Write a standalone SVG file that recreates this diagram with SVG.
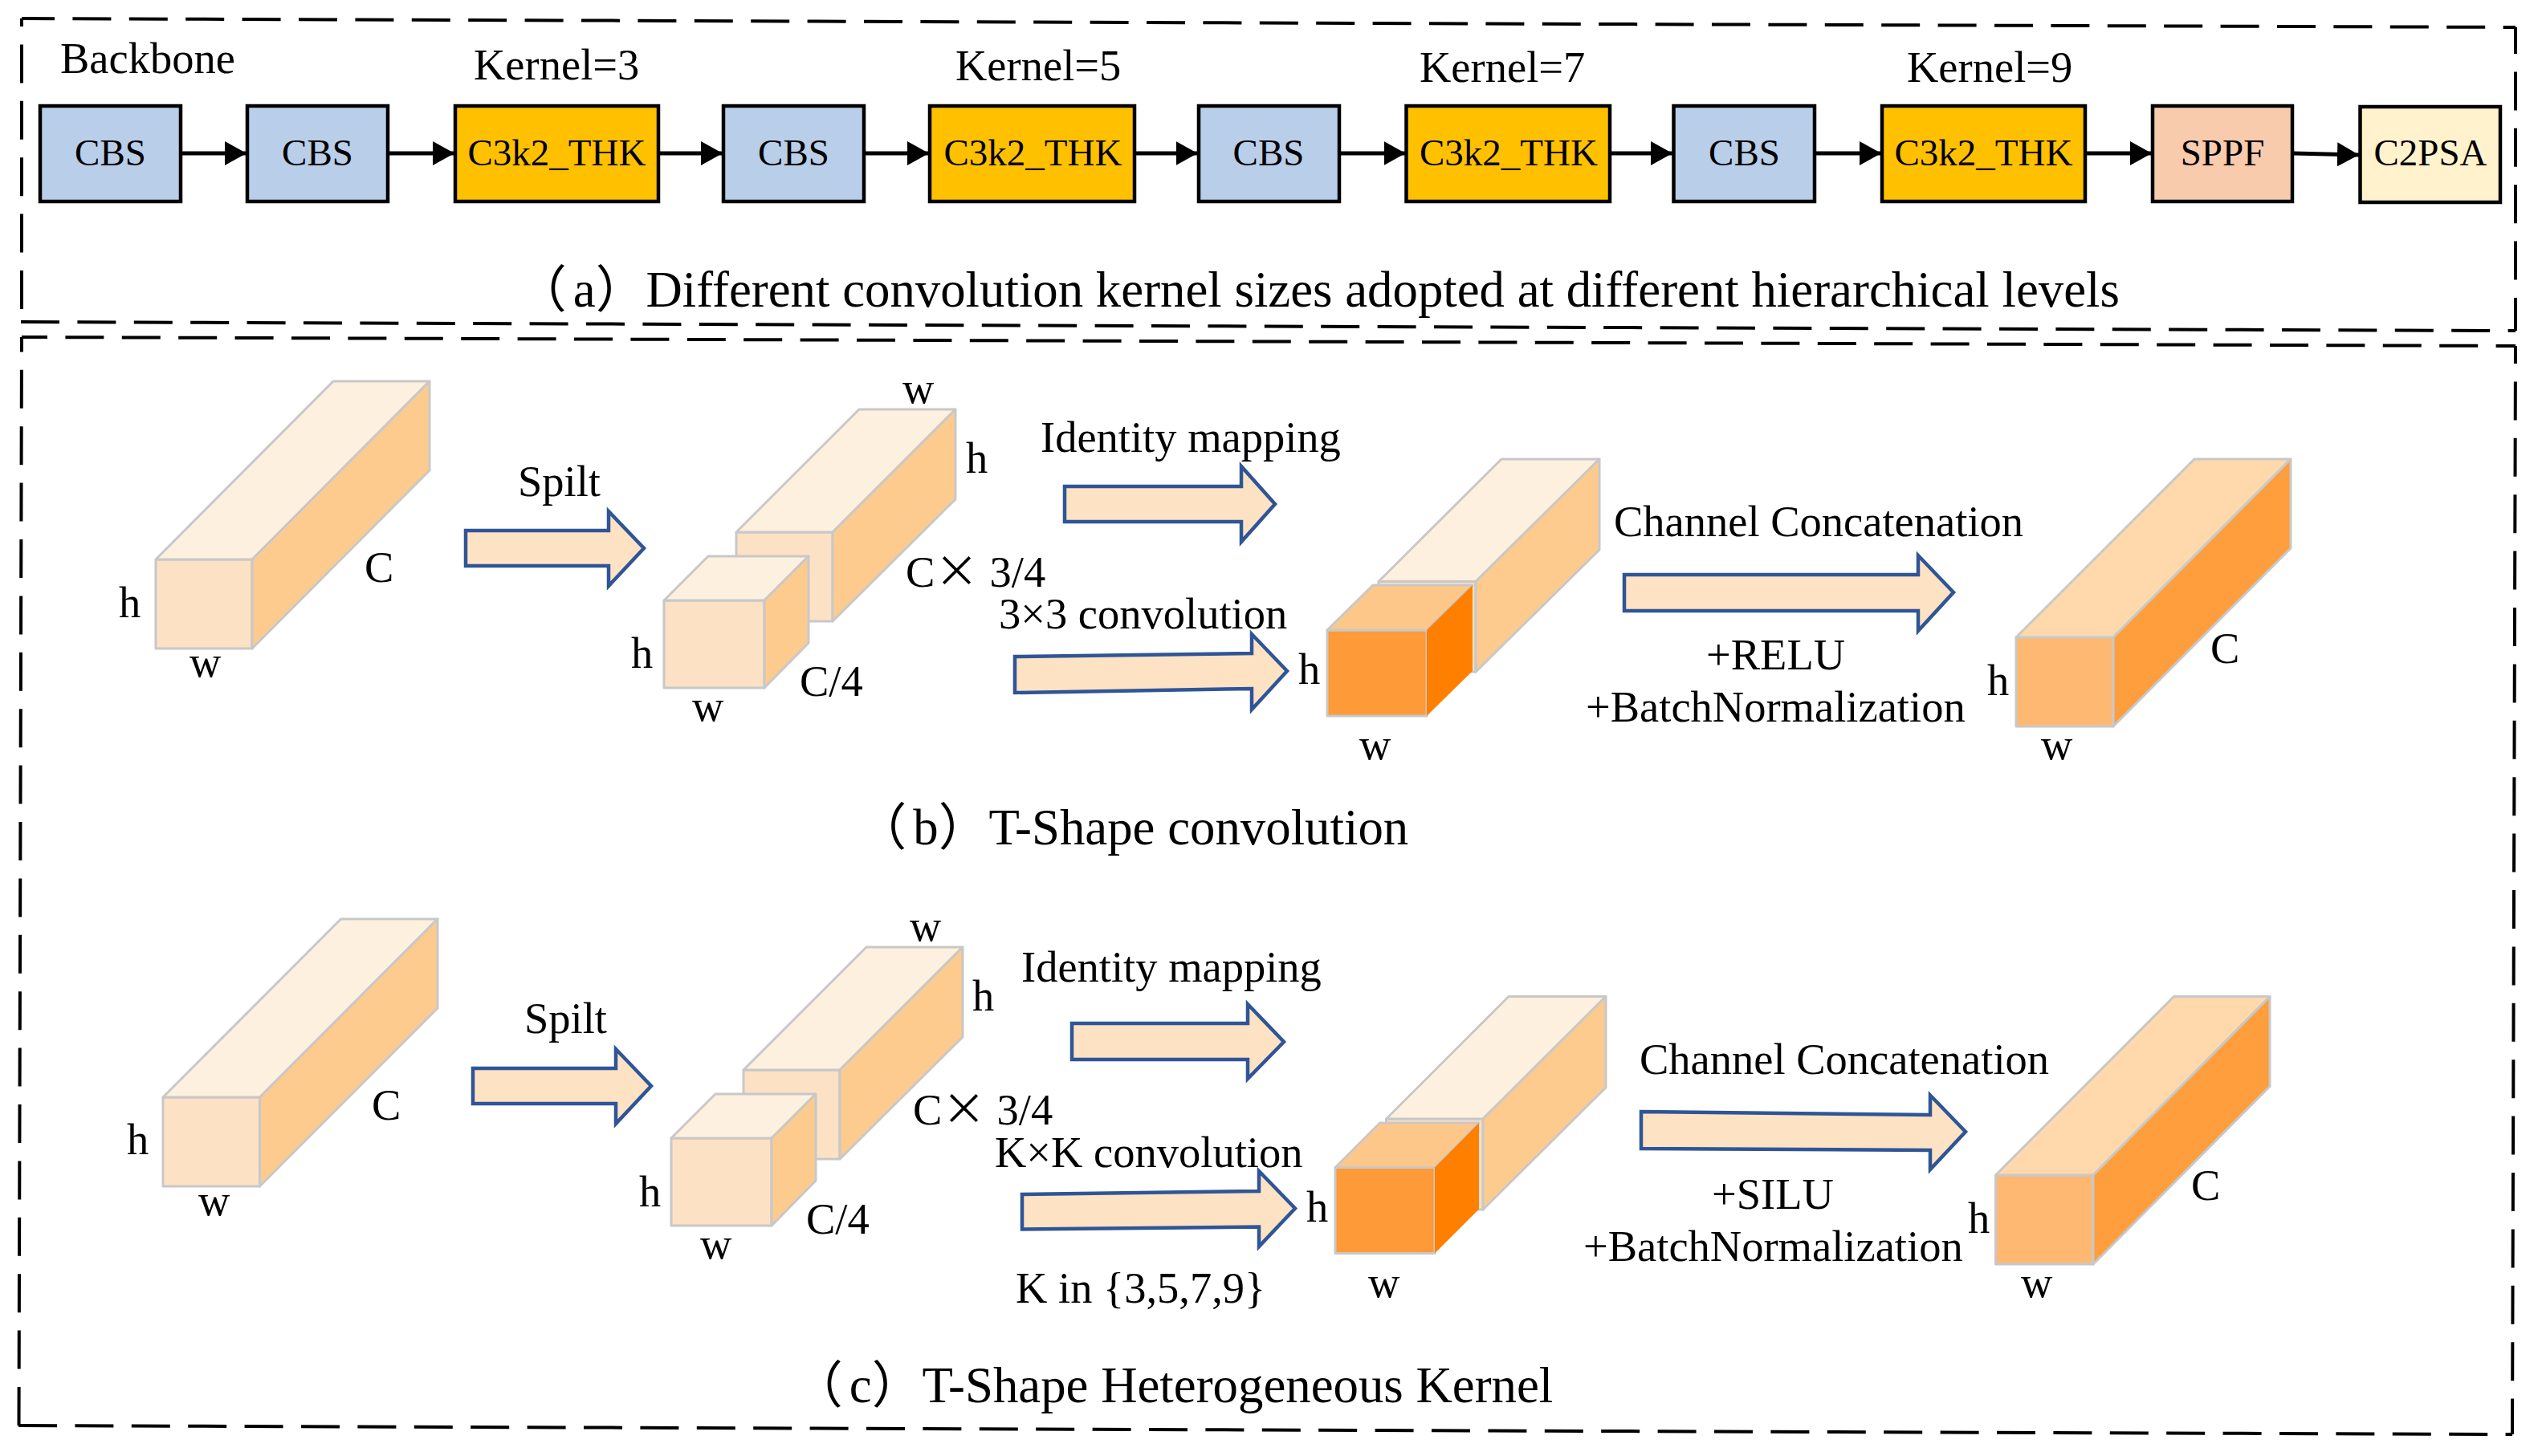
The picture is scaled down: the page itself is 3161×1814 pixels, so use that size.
<svg xmlns="http://www.w3.org/2000/svg" width="3161" height="1814" viewBox="0 0 3161 1814">
<style>
text{font-family:"Liberation Serif","Noto Sans CJK SC",serif;fill:#000}
.l{font-size:54.500px}
.c{font-size:62.800px}
.n{font-size:47px;text-anchor:middle}
.x{font-family:"Noto Sans CJK SC",sans-serif}
.box{stroke:#000;stroke-width:4.500}
.cbs{fill:#B9CEE8}.thk{fill:#FFC000}.sppf{fill:#F8CBAD}.psa{fill:#FFF2CC}
.d{fill:none;stroke:#000;stroke-width:4;stroke-dasharray:48 22.400}
.w{fill:none;stroke:#000;stroke-width:5;marker-end:url(#h)}
.a{fill:#FDE2C3;stroke:#2F5597;stroke-width:4.500}
.e{stroke:#C8C8C8;stroke-width:3;stroke-linejoin:round}
.f1{fill:#FDE1C4}.t1{fill:#FEF0DF}.s1{fill:#FECB8E}
.f2{fill:#FF9A38}.t2{fill:#FEC78A}.s2{fill:#FF8000}
.f3{fill:#FFB871}.t3{fill:#FFD8AB}.s3{fill:#FF9E3D}
</style>
<defs>
<marker id="h" markerUnits="userSpaceOnUse" markerWidth="28" markerHeight="30" refX="27" refY="15" orient="auto"><path d="M0,0L27,15L0,30Z" fill="#000"/></marker>
</defs>
<g id="panels">
<path class="d" style="stroke-dashoffset:7" d="M27,23L3133,34"/>
<path class="d" style="stroke-dashoffset:15" d="M3133,34V412"/>
<path class="d" d="M26,401L3133,412"/>
<path class="d" style="stroke-dashoffset:38" d="M27,23V401"/>
<path class="d" style="stroke-dashoffset:16" d="M27,420L3133,431"/>
<path class="d" style="stroke-dashoffset:26" d="M3133,431L3129,1787"/>
<path class="d" d="M23,1776L3129,1787"/>
<path class="d" style="stroke-dashoffset:29.600" d="M27,420L23.500,1776"/>
</g>
<g id="connectors">
<path class="w" d="M226,191H307"/>
<path class="w" d="M484,191H566"/>
<path class="w" d="M821,191H900"/>
<path class="w" d="M1077,191H1157"/>
<path class="w" d="M1414,191H1491.500"/>
<path class="w" d="M1669,191H1750.500"/>
<path class="w" d="M2006,191H2083"/>
<path class="w" d="M2261,191H2343"/>
<path class="w" d="M2598,191H2680"/>
<path class="w" d="M2856,191L2938,193"/>
<path class="a" d="M580,661H758V637L802,683L758,730V705H580Z"/>
<path class="a" d="M1326,606H1546V581L1588,628L1546,675V650H1326Z"/>
<path class="a" d="M1264,818L1559,814V790L1603,836L1559,884V858L1264,863Z"/>
<path class="a" d="M2023,716H2389V692L2433,738L2389,786V761H2023Z"/>
<path class="a" d="M589,1331H767V1307L811,1353L767,1400V1375H589Z"/>
<path class="a" d="M1335,1275H1554V1251L1599,1298L1554,1344V1320H1335Z"/>
<path class="a" d="M1273,1488L1568,1484V1459L1613,1505.500L1568,1553V1528.500L1273,1531.500Z"/>
<path class="a" d="M2044,1385L2404,1389V1364.500L2448,1410L2404,1457V1433L2044,1431Z"/>
</g>
<g id="node-cbs1"><rect class="box cbs" x="50" y="132" width="175" height="119"/><text class="n" x="137.500" y="206">CBS</text></g>
<g id="node-cbs2"><rect class="box cbs" x="308" y="132" width="175" height="119"/><text class="n" x="395.500" y="206">CBS</text></g>
<g id="node-thk1"><rect class="box thk" x="567" y="132" width="253" height="119"/><text class="n" x="693.500" y="206">C3k2_THK</text></g>
<g id="node-cbs3"><rect class="box cbs" x="901" y="132" width="175" height="119"/><text class="n" x="988.500" y="206">CBS</text></g>
<g id="node-thk2"><rect class="box thk" x="1158" y="132" width="255" height="119"/><text class="n" x="1286.500" y="206">C3k2_THK</text></g>
<g id="node-cbs4"><rect class="box cbs" x="1493" y="132" width="175" height="119"/><text class="n" x="1580" y="206">CBS</text></g>
<g id="node-thk3"><rect class="box thk" x="1751.500" y="132" width="253.500" height="119"/><text class="n" x="1879" y="206">C3k2_THK</text></g>
<g id="node-cbs5"><rect class="box cbs" x="2084.500" y="132" width="175.500" height="119"/><text class="n" x="2172.500" y="206">CBS</text></g>
<g id="node-thk4"><rect class="box thk" x="2344" y="132" width="253" height="119"/><text class="n" x="2470.500" y="206">C3k2_THK</text></g>
<g id="node-sppf"><rect class="box sppf" x="2681" y="132" width="174" height="119"/><text class="n" x="2768" y="206">SPPF</text></g>
<g id="node-c2psa"><rect class="box psa" x="2939.500" y="133" width="174.500" height="119"/><text class="n" x="3027" y="206">C2PSA</text></g>
<g id="labels-a">
<text class="l" x="75" y="91">Backbone</text>
<text class="l" x="590" y="99">Kernel=3</text>
<text class="l" x="1190" y="100">Kernel=5</text>
<text class="l" x="1768" y="102">Kernel=7</text>
<text class="l" x="2375" y="102">Kernel=9</text>
</g>
<g id="captions">
<text class="c" x="651" y="382"><tspan dx="-8">（</tspan><tspan dx="8">a</tspan>）Different convolution kernel sizes adopted at different hierarchical levels</text>
<text class="c" x="1074.500" y="1052"><tspan dx="-8">（</tspan><tspan dx="8">b</tspan>）T-Shape convolution</text>
<text class="c" x="995" y="1747"><tspan dx="-8">（</tspan><tspan dx="8">c</tspan>）T-Shape Heterogeneous Kernel</text>
</g>
<g id="cuboid-b1"><path class="e f1" d="M194,697H314V808H194Z"/><path class="e t1" d="M194,697L415,475H535L314,697Z"/><path class="e s1" d="M314,697L535,475V586L314,808Z"/></g>
<g id="cuboid-b2"><path class="e f1" d="M917,663H1037V774H917Z"/><path class="e t1" d="M917,663L1070,510H1190L1037,663Z"/><path class="e s1" d="M1037,663L1190,510V622L1037,774Z"/></g>
<g id="cuboid-b3"><path class="e f1" d="M827,748H952V857H827Z"/><path class="e t1" d="M827,748L882,693H1007L952,748Z"/><path class="e s1" d="M952,748L1007,693V801L952,857Z"/></g>
<g id="cuboid-b4"><path class="e f1" d="M1717,724.500H1838V837H1717Z"/><path class="e t1" d="M1717,724.500L1870,572H1992L1838,724.500Z"/><path class="e s1" d="M1838,724.500L1992,572V685L1838,837Z"/></g>
<g id="cuboid-b5"><path class="e f2" d="M1653,785H1777V892H1653Z"/><path class="e t2" d="M1653,785L1710,729H1834L1777,785Z"/><path class="s2" d="M1777,785L1834,729V836L1777,892Z"/></g>
<g id="cuboid-b6"><path class="e f3" d="M2511,794H2632V905H2511Z"/><path class="e t3" d="M2511,794L2733,572H2853L2632,794Z"/><path class="e s3" d="M2632,794L2853,572V683L2632,905Z"/></g>
<g id="labels-b" transform="translate(-1,1)">
<text class="l" x="149" y="768">h</text>
<text class="l" x="237" y="842">w</text>
<text class="l" x="455" y="724">C</text>
<text class="l" x="646" y="617">Spilt</text>
<text class="l" x="1125" y="501">w</text>
<text class="l" x="1204" y="588">h</text>
<text class="l" x="1129" y="730">C<tspan class="x">×</tspan> 3/4</text>
<text class="l" x="1245" y="782">3×3 convolution</text>
<text class="l" x="787" y="831">h</text>
<text class="l" x="997" y="866">C/4</text>
<text class="l" x="863" y="897">w</text>
<text class="l" x="1297" y="562">Identity mapping</text>
<text class="l" x="1618" y="851">h</text>
<text class="l" x="1694" y="945">w</text>
<text class="l" x="2011" y="667">Channel Concatenation</text>
<text class="l" x="2126" y="833">+RELU</text>
<text class="l" x="1976" y="898">+BatchNormalization</text>
<text class="l" x="2476" y="865">h</text>
<text class="l" x="2543" y="945">w</text>
<text class="l" x="2754" y="825">C</text>
</g>
<g id="cuboid-c1"><path class="e f1" d="M203,1367H323.500V1478H203Z"/><path class="e t1" d="M203,1367L424.500,1145H545L323.500,1367Z"/><path class="e s1" d="M323.500,1367L545,1145V1256L323.500,1478Z"/></g>
<g id="cuboid-c2"><path class="e f1" d="M926,1333H1046V1444H926Z"/><path class="e t1" d="M926,1333L1079,1180H1199L1046,1333Z"/><path class="e s1" d="M1046,1333L1199,1180V1292L1046,1444Z"/></g>
<g id="cuboid-c3"><path class="e f1" d="M836,1418H961V1527H836Z"/><path class="e t1" d="M836,1418L891,1363H1016L961,1418Z"/><path class="e s1" d="M961,1418L1016,1363V1471L961,1527Z"/></g>
<g id="cuboid-c4"><path class="e f1" d="M1726.500,1394H1847V1507H1726.500Z"/><path class="e t1" d="M1726.500,1394L1879,1241.500H2000L1847,1394Z"/><path class="e s1" d="M1847,1394L2000,1241.500V1355L1847,1507Z"/></g>
<g id="cuboid-c5"><path class="e f2" d="M1663,1454.500H1787V1561.500H1663Z"/><path class="e t2" d="M1663,1454.500L1718.500,1399H1842L1787,1454.500Z"/><path class="s2" d="M1787,1454.500L1842,1399V1506.500L1787,1561.500Z"/></g>
<g id="cuboid-c6"><path class="e f3" d="M2485.500,1464H2607V1575H2485.500Z"/><path class="e t3" d="M2485.500,1464L2707.500,1241.500H2827L2607,1464Z"/><path class="e s3" d="M2607,1464L2827,1241.500V1353.500L2607,1575Z"/></g>
<g id="labels-c" transform="translate(-1,1)">
<text class="l" x="159" y="1437">h</text>
<text class="l" x="248" y="1513">w</text>
<text class="l" x="464" y="1394">C</text>
<text class="l" x="654" y="1286">Spilt</text>
<text class="l" x="1134" y="1171">w</text>
<text class="l" x="1212" y="1258">h</text>
<text class="l" x="1138" y="1400">C<tspan class="x">×</tspan> 3/4</text>
<text class="l" x="1240" y="1453">K×K convolution</text>
<text class="l" x="797" y="1502">h</text>
<text class="l" x="1005" y="1536">C/4</text>
<text class="l" x="873" y="1567">w</text>
<text class="l" x="1273" y="1222">Identity mapping</text>
<text class="l" x="1266" y="1622">K in {3,5,7,9}</text>
<text class="l" x="1628" y="1521">h</text>
<text class="l" x="1705" y="1615">w</text>
<text class="l" x="2043" y="1337">Channel Concatenation</text>
<text class="l" x="2133" y="1505">+SILU</text>
<text class="l" x="1973" y="1570">+BatchNormalization</text>
<text class="l" x="2452" y="1535">h</text>
<text class="l" x="2518" y="1615">w</text>
<text class="l" x="2730" y="1494">C</text>
</g>
</svg>
